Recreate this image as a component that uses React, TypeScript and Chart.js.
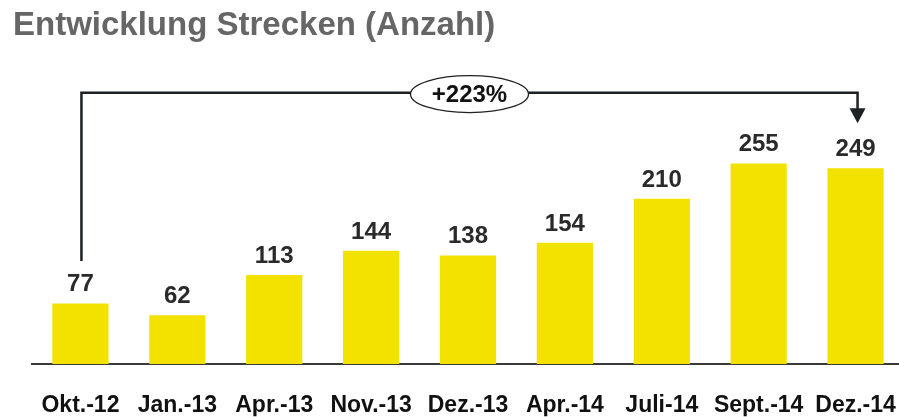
import React, { useEffect, useRef } from "react";
import { Chart, registerables } from "chart.js";

Chart.register(...registerables);

const categories = ["Okt.-12", "Jan.-13", "Apr.-13", "Nov.-13", "Dez.-13", "Apr.-14", "Juli-14", "Sept.-14", "Dez.-14"];
const values = [77, 62, 113, 144, 138, 154, 210, 255, 249];
const titleText = "Entwicklung Strecken (Anzahl)";
const growthLabel = "+223%";
const bracketLevel = [345];

const FONT = "'Liberation Sans', Arial, Helvetica, sans-serif";
const LINE = "#1e2124";

const overlayPlugin = {
  id: "overlay",
  afterDatasetsDraw(chart: any) {
    const ctx = chart.ctx;
    const meta = chart.getDatasetMeta(0);
    const ys = chart.scales.y;
    ctx.save();
    // value labels
    ctx.font = `bold 24px ${FONT}`;
    ctx.fillStyle = "#2a2a2a";
    ctx.textAlign = "center";
    ctx.textBaseline = "alphabetic";
    meta.data.forEach((bar: any, i: number) => {
      ctx.fillText(String(values[i]), bar.x, bar.y - 12);
    });
    // bracket
    const first = meta.data[0];
    const last = meta.data[meta.data.length - 1];
    const lineY = ys.getPixelForValue(bracketLevel[0]);
    const x1 = first.x + 1;
    const x2 = last.x + 2;
    const y1 = first.y - 12 - 18 - 12.5;
    const tip = last.y - 12 - 18 - 15;
    ctx.strokeStyle = LINE;
    ctx.lineWidth = 2.5;
    ctx.lineJoin = "miter";
    ctx.beginPath();
    ctx.moveTo(x1, y1);
    ctx.lineTo(x1, lineY);
    ctx.lineTo(x2, lineY);
    ctx.lineTo(x2, tip - 12);
    ctx.stroke();
    ctx.fillStyle = LINE;
    ctx.beginPath();
    ctx.moveTo(x2 - 8, tip - 15);
    ctx.lineTo(x2 + 8, tip - 15);
    ctx.lineTo(x2, tip);
    ctx.closePath();
    ctx.fill();
    // ellipse
    const cx = (x1 + x2) / 2;
    const cy = lineY + 1.5;
    ctx.beginPath();
    ctx.ellipse(cx, cy, 59, 18.5, 0, 0, Math.PI * 2);
    ctx.fillStyle = "#ffffff";
    ctx.fill();
    ctx.lineWidth = 1.3;
    ctx.strokeStyle = "#222";
    ctx.stroke();
    ctx.fillStyle = "#111";
    ctx.font = `bold 24px ${FONT}`;
    ctx.textBaseline = "middle";
    ctx.fillText(growthLabel, cx, cy + 1);
    ctx.restore();
  },
};

export default function App() {
  const ref = useRef<HTMLCanvasElement>(null);
  useEffect(() => {
    if (!ref.current) return;
    const chart = new Chart(ref.current, {
      type: "bar",
      data: {
        labels: categories,
        datasets: [
          {
            data: values,
            backgroundColor: "#F3E100",
            borderWidth: 0,
            categoryPercentage: 1,
            barPercentage: 0.58,
          },
        ],
      },
      options: {
        responsive: false,
        animation: false,
        layout: { padding: { left: 13, right: 6, top: 0, bottom: 0.7 } },
        plugins: {
          legend: { display: false },
          tooltip: { enabled: false },
          title: {
            display: true,
            text: titleText,
            align: "start",
            color: "#666666",
            font: { family: FONT, size: 33, weight: "bold", lineHeight: 1.2 },
            padding: { top: 6.5, bottom: 13.5 },
          },
        },
        scales: {
          x: {
            grid: { display: false, drawTicks: false },
            border: { display: true, color: "#3a3a3a", width: 2 },
            ticks: {
              color: "#111",
              font: { family: FONT, size: 23, weight: "bold", lineHeight: 1.1 },
              padding: 29.5,
              autoSkip: false,
              maxRotation: 0,
            },
            afterFit: (scale: any) => {
              scale.height = 52.3;
              scale.paddingLeft = 0;
              scale.paddingRight = 0;
            },
          },
          y: {
            min: 0,
            max: 387,
            grid: { display: false, drawTicks: false },
            border: { display: false },
            ticks: { display: false },
            afterFit: (scale: any) => {
              scale.width = 19;
            },
          },
        },
      },
      plugins: [overlayPlugin],
    });
    return () => chart.destroy();
  }, []);
  return (
    <div style={{ position: "fixed", left: 0, top: 0, width: 899, height: 417, overflow: "hidden", background: "#fff" }}>
      <canvas ref={ref} width={910} height={417} style={{ display: "block", width: 910, height: 417 }} />
    </div>
  );
}
